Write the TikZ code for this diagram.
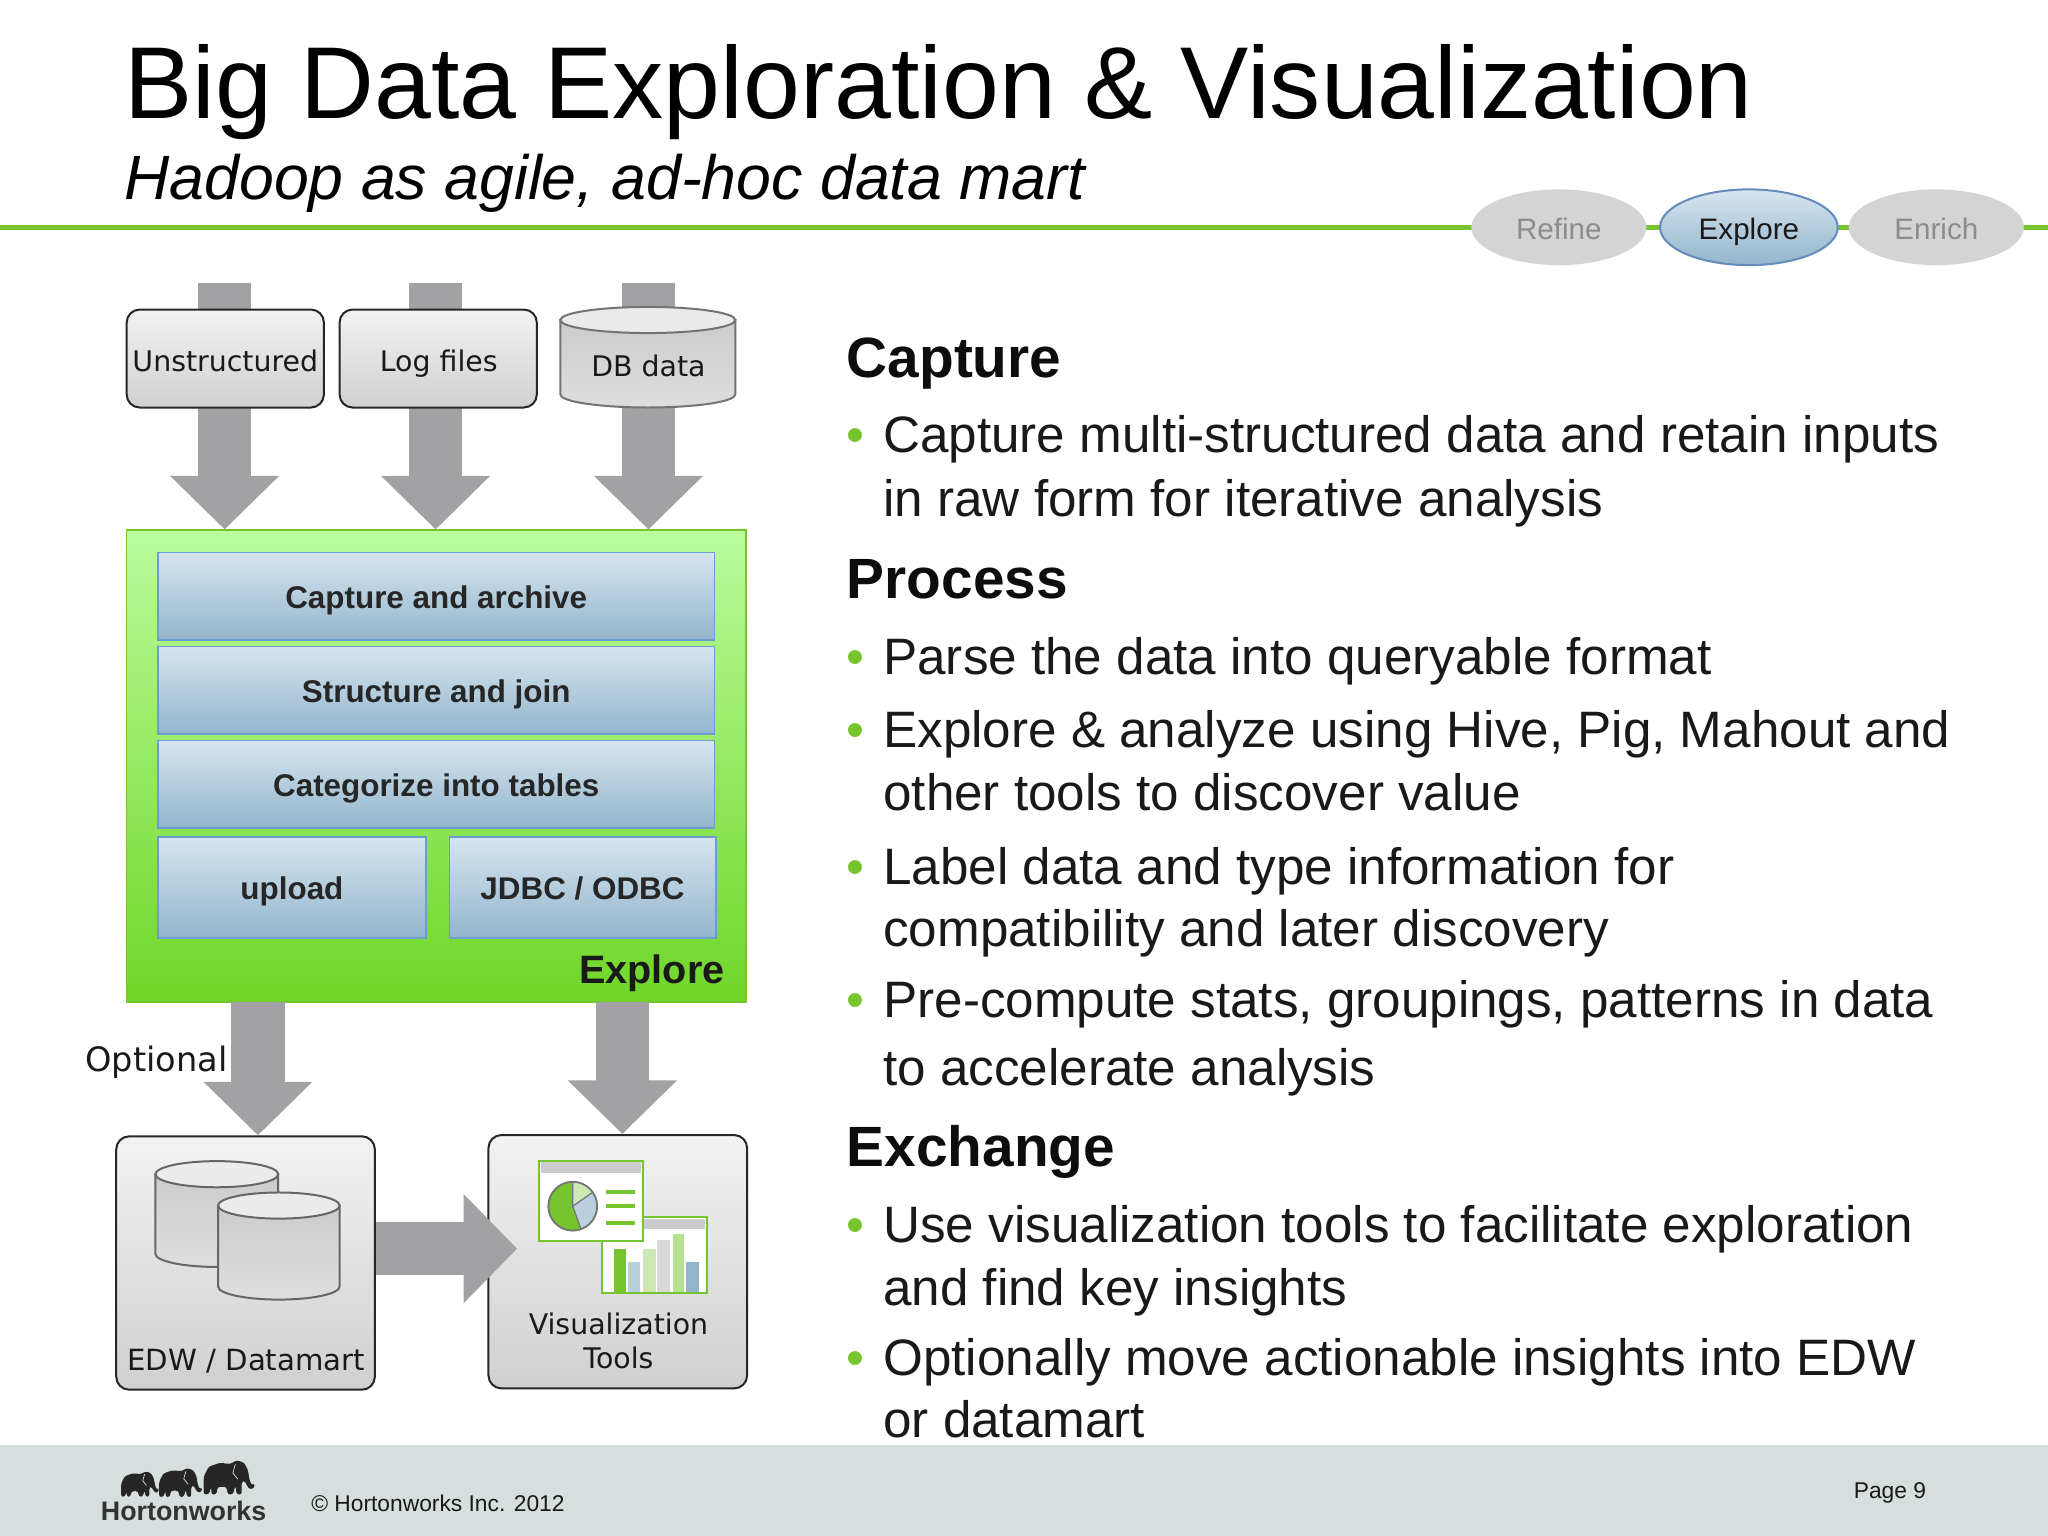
\documentclass[tikz,border=0pt]{standalone}
\usepackage{fontspec}
\setmainfont{Liberation Sans}
\newfontfamily\dejavu{DejaVu Sans}
\usetikzlibrary{arrows.meta,shapes.geometric}
\newcommand{\pxu}{0.6531pt}
\definecolor{arrowgray}{HTML}{A2A2A4}
\definecolor{hwgreen}{HTML}{76C42E}
\definecolor{barborder}{HTML}{6E9BD0}
\definecolor{footerbg}{HTML}{D6DEDE}
\definecolor{steptop}{HTML}{D6E5EF}
\definecolor{stepdark}{HTML}{93B5CC}
\definecolor{paleblue}{HTML}{B9CFDE}
\definecolor{palegreen}{HTML}{CDE8B5}
\definecolor{midgreen}{HTML}{B5E28F}
\definecolor{boxbottom}{HTML}{D0D0D2}
\tikzset{
  blockarrow/.style={draw=arrowgray,line width=41*\pxu,-{Triangle[width=81*\pxu,length=41*\pxu]},arrowgray},
  sourcebox/.style={draw=black!85,line width=1pt,rounded corners=6.5pt,top color=black!5,bottom color=boxbottom,inner sep=0pt,font=\dejavu\fontsize{14.2}{16}\selectfont,text=black!90,text height=14.5pt,text depth=2pt},
  stepbar/.style={draw=barborder,line width=0.8pt,top color=steptop,bottom color=stepdark,inner sep=0pt,font=\fontsize{15.7}{18}\bfseries\selectfont,text=black!85,text height=13.8pt,text depth=2pt},
  pill/.style={ellipse,inner sep=0pt,minimum width=134*\pxu,minimum height=58*\pxu,font=\fontsize{14.8}{18}\selectfont,text height=13.8pt,text depth=2pt},
  dimpill/.style={pill,fill=black!17,text=black!45},
  bodyline/.style={anchor=base west,inner sep=0pt,yshift=-0.2pt,font=\fontsize{25.6}{30}\selectfont,text=black!90},
  heading/.style={anchor=base west,inner sep=0pt,font=\fontsize{28.4}{34}\bfseries\selectfont,text=black!95},
  bulletmark/.style={anchor=base west,inner sep=0pt,yshift=-0.2pt,font=\fontsize{25.6}{30}\selectfont,text=hwgreen},
  smalltext/.style={anchor=base west,inner sep=0pt,font=\fontsize{11.4}{14}\selectfont,text=black!90},
  diagramtext/.style={inner sep=0pt,font=\dejavu\fontsize{14.2}{16}\selectfont,text=black!90},
  window/.style={draw=hwgreen,line width=1pt,fill=white},
  elephantfill/.style={fill=black!85,rounded corners=1.2pt}
}
\newcommand{\elephant}[3]{%
  \begin{scope}[shift={(#1,#2)},scale=#3]
    \fill[elephantfill] (1,13) -- (5,5) -- (14,2) -- (22,3) -- (27,0) -- (33,2) -- (36,8) -- (37,15) -- (39,20) -- (41,18) -- (41,22) -- (37,23) -- (33,16) -- (31,17) -- (31,27) -- (27,27) -- (26,20) -- (24,27) -- (20,27) -- (19,21) -- (12,21) -- (11,27) -- (7,27) -- (7,21) -- (5,27) -- (1,27) -- cycle;
    \draw[footerbg,line width=0.35pt] (26,3) -- (24,10) -- (28,15);
  \end{scope}}
\newcommand{\cylshape}[6]{%
  \path[draw=#6,line width=1pt,top color=black!20,bottom color=black!13]
    (#1,#3) -- (#2,#3) -- (#2,#4) arc[start angle=0,end angle=180,x radius={(#2-#1)/2},y radius=#5] -- cycle;
  \path[draw=#6,line width=1pt,fill=black!8]
    ({(#1+#2)/2},#3) ellipse[x radius={(#2-#1)/2},y radius=#5];}
\begin{document}
\begin{tikzpicture}[x=\pxu,y=-\pxu]
\useasboundingbox (0,0) rectangle (1568,1176);
\fill[white] (0,0) rectangle (1568,1176);
% title
\node[anchor=base west,inner sep=0pt,font=\fontsize{51.1}{58}\selectfont] (title) at (95,91) {Big Data Exploration \& Visualization};
\node[anchor=base west,inner sep=0pt,font=\fontsize{31.3}{36}\itshape\selectfont] (subtitle) at (95,153) {Hadoop as agile, ad-hoc data mart};
% rule and pills
\draw[hwgreen,line width=2.6pt] (0,174) -- (1568,174);
\node[dimpill] (refine) at (1193.5,174) {Refine};
\node[pill,draw=barborder!90!black,line width=1pt,top color=steptop,bottom color=stepdark,minimum width=136*\pxu,text=black!90] (explorepill) at (1339,174) {Explore};
\node[dimpill] (enrich) at (1482.5,174) {Enrich};
% arrow tails
\coordinate (srcA) at (172,217);
\coordinate (srcB) at (333.5,217);
\coordinate (srcC) at (496.5,217);
% green box
\node[draw=hwgreen,line width=0.8pt,top color={rgb,255:red,186;green,252;blue,156},bottom color={rgb,255:red,112;green,214;blue,40},inner sep=0pt,minimum width=474*\pxu,minimum height=361*\pxu] (hadoop) at (334,586.5) {};
% input arrows
\draw[blockarrow] (srcA) -- (srcA |- hadoop.north);
\draw[blockarrow] (srcB) -- (srcB |- hadoop.north);
\draw[blockarrow] (srcC) -- (srcC |- hadoop.north);
% sources
\node[sourcebox,minimum width=151*\pxu,minimum height=75*\pxu] (unstructured) at (172.5,274.5) {Unstructured};
\node[sourcebox,minimum width=151*\pxu,minimum height=75*\pxu] (logfiles) at (335.5,274.5) {\hspace{.6pt}Log files};
\cylshape{429}{563}{245}{302}{10}{black!55}
\node[diagramtext] (dbdata) at (496.5,280) {DB data};
% steps
\node[stepbar,minimum width=426*\pxu,minimum height=67*\pxu] (capture) at (334,456.5) {Capture and archive};
\node[stepbar,minimum width=426*\pxu,minimum height=67*\pxu] (structure) at (334,528.5) {Structure and join};
\node[stepbar,minimum width=426*\pxu,minimum height=67*\pxu] (categorize) at (334,600.5) {Categorize into tables};
\node[stepbar,minimum width=205*\pxu,minimum height=77*\pxu] (upload) at (223.5,679.5) {upload};
\node[stepbar,minimum width=204*\pxu,minimum height=77*\pxu] (jdbc) at (446,679.5) {JDBC / ODBC};
\node[anchor=base east,inner sep=0pt,font=\fontsize{19.8}{24}\bfseries\selectfont,text=black!90] (explorelabel) at (555,753) {Explore};
% lower boxes
\node[sourcebox,minimum width=198*\pxu,minimum height=194*\pxu] (edw) at (188,967) {};
\node[sourcebox,minimum width=198*\pxu,minimum height=194*\pxu] (vis) at (473,966) {};
\coordinate (optTail) at (197.5,767);
\coordinate (visTail) at (476.5,767);
\draw[blockarrow] (optTail) -- (optTail |- edw.north);
\draw[blockarrow] (visTail) -- (visTail |- vis.north);
\coordinate (hTip) at (396,956);
\draw[blockarrow] (edw.east |- hTip) -- (hTip);
\node[diagramtext,anchor=base west,font=\dejavu\fontsize{16.8}{20}\selectfont] (optional) at (65,820) {Optional};
\cylshape{119}{213}{899}{960}{10}{black!60}
\cylshape{167}{260}{923}{985}{10}{black!60}
\node[diagramtext,anchor=base,font=\dejavu\fontsize{14.6}{18}\selectfont] (edwlabel) at (188.5,1049) {EDW / Datamart};
\node[diagramtext,anchor=base] (vislabel) at (473.5,1022) {Visualization};
\node[diagramtext,anchor=base] (vislabelb) at (473.5,1048) {Tools};
% window 2 (bar chart)
\draw[window] (461,932) rectangle (541,990);
\fill[black!20] (462,933) rectangle (540,941);
\fill[hwgreen] (470,956) rectangle (479,989);
\fill[paleblue] (481,966) rectangle (490,989);
\fill[palegreen] (492,956) rectangle (502,989);
\fill[black!15] (503,949) rectangle (513,989);
\fill[midgreen] (515,945) rectangle (524,989);
\fill[stepdark] (525,966) rectangle (535,989);
% window 1 (pie)
\draw[window] (413,889) rectangle (492,950);
\fill[black!20] (414,890) rectangle (491,898);
\fill[hwgreen] (438.5,923.5) -- (438.5,904.8) arc[start angle=-90,end angle=-290,radius=18.7] -- cycle;
\fill[palegreen] (438.5,923.5) -- (438.5,904.8) arc[start angle=-90,end angle=-35,radius=18.7] -- cycle;
\fill[paleblue] (438.5,923.5) -- ++(-35:18.7) arc[start angle=-35,end angle=70,radius=18.7] -- cycle;
\draw[black!55,line width=0.9pt] (438.5,923.5) circle[radius=18.7];
\draw[black!55,line width=0.6pt] (438.5,904.8) -- (438.5,923.5) -- ++(-35:18.7) (438.5,923.5) -- ++(70:18.7);
\draw[hwgreen,line width=2pt] (464,913) -- (486,913) (464,923.5) -- (486,923.5) (464,936) -- (486,936);
% right column
\node[heading] (hCapture) at (648,289) {Capture};
\node[bulletmark] (b1) at (648,346) {•};
\node[bodyline] (t1) at (676,346) {Capture multi-structured data and retain inputs};
\node[bodyline] (t1b) at (676,395) {in raw form for iterative analysis};
\node[heading] (hProcess) at (648,458) {Process};
\node[bulletmark] (b2) at (648,516) {•};
\node[bodyline] (t2) at (676,516) {Parse the data into queryable format};
\node[bulletmark] (b3) at (648,572) {•};
\node[bodyline] (t3) at (676,572) {Explore \& analyze using Hive, Pig, Mahout and};
\node[bodyline] (t3b) at (676,620) {other tools to discover value};
\node[bulletmark] (b4) at (648,677) {•};
\node[bodyline] (t4) at (676,677) {Label data and type information for};
\node[bodyline] (t4b) at (676,724) {compatibility and later discovery};
\node[bulletmark] (b5) at (648,779) {•};
\node[bodyline] (t5) at (676,779) {Pre-compute stats, groupings, patterns in data};
\node[bodyline] (t5b) at (676,831) {to accelerate analysis};
\node[heading] (hExchange) at (648,893) {Exchange};
\node[bulletmark] (b6) at (648,951) {•};
\node[bodyline] (t6) at (676,951) {Use visualization tools to facilitate exploration};
\node[bodyline] (t6b) at (676,999) {and find key insights};
\node[bulletmark] (b7) at (648,1053) {•};
\node[bodyline] (t7) at (676,1053) {Optionally move actionable insights into EDW};
\node[bodyline] (t7b) at (676,1100) {or datamart};
% footer
\fill[footerbg] (0,1106) rectangle (1568,1176);
\elephant{92}{1126.5}{0.72}
\elephant{121}{1124}{0.82}
\elephant{155}{1118}{0.97}
\node[anchor=base west,inner sep=0pt,font=\fontsize{13.4}{16}\bfseries\selectfont,text=black!80] (logo) at (77,1164) {Hortonworks};
\node[smalltext] (copyright) at (238,1157) {© Hortonworks Inc. 2012};
\node[smalltext] (page) at (1419,1147) {Page 9};
\end{tikzpicture}
\end{document}
